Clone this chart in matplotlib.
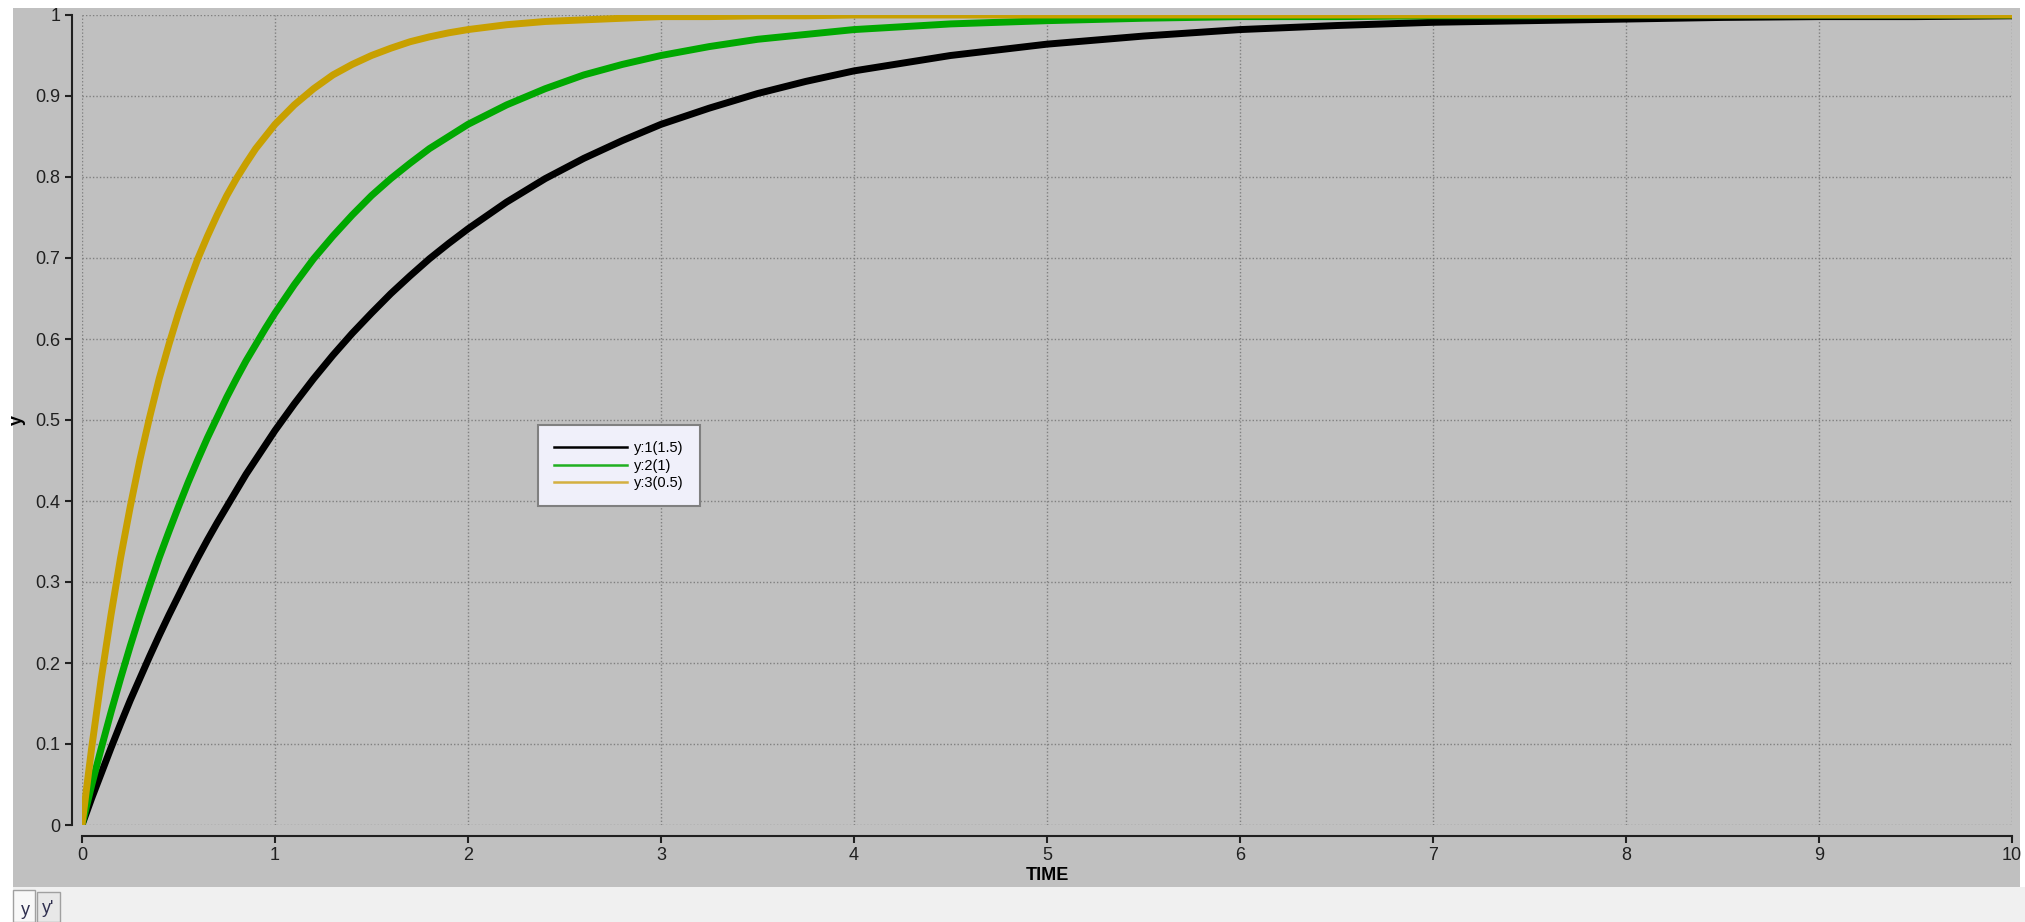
import matplotlib
matplotlib.use("Agg")
from matplotlib import pyplot as plt
from matplotlib.lines import Line2D
from matplotlib.patches import Rectangle

# readings
t = [0, 0.05, 0.1, 0.15, 0.2, 0.25, 0.3, 0.35, 0.4, 0.45, 0.5, 0.55, 0.6, 0.65, 0.7,
     0.75, 0.8, 0.85, 0.9, 0.95, 1.0, 1.1, 1.2, 1.3, 1.4, 1.5, 1.6, 1.7, 1.8, 1.9, 2.0,
     2.2, 2.4, 2.6, 2.8, 3.0, 3.25, 3.5, 3.75, 4.0, 4.5, 5.0, 5.5, 6.0, 6.5, 7.0, 7.5,
     8.0, 8.5, 9.0, 9.5, 10.0]

y1 = [0, 0.033, 0.064, 0.095, 0.125, 0.154, 0.181, 0.208, 0.234, 0.259, 0.283, 0.307,
      0.330, 0.352, 0.373, 0.393, 0.413, 0.433, 0.451, 0.469, 0.487, 0.520, 0.551, 0.580,
      0.607, 0.632, 0.656, 0.678, 0.699, 0.718, 0.736, 0.769, 0.798, 0.823, 0.845, 0.865,
      0.885, 0.903, 0.918, 0.931, 0.950, 0.964, 0.974, 0.982, 0.987, 0.991, 0.993, 0.995,
      0.997, 0.998, 0.998, 0.999]

y2 = [0, 0.049, 0.095, 0.139, 0.181, 0.221, 0.259, 0.295, 0.330, 0.362, 0.393, 0.423,
      0.451, 0.478, 0.503, 0.528, 0.551, 0.573, 0.593, 0.613, 0.632, 0.667, 0.699, 0.727,
      0.753, 0.777, 0.798, 0.817, 0.835, 0.850, 0.865, 0.889, 0.909, 0.926, 0.939, 0.950,
      0.961, 0.970, 0.976, 0.982, 0.989, 0.993, 0.996, 0.998, 0.998, 0.999, 0.999, 1.0,
      1.0, 1.0, 1.0, 1.0]

y3 = [0, 0.095, 0.181, 0.259, 0.330, 0.393, 0.451, 0.503, 0.551, 0.593, 0.632, 0.667,
      0.699, 0.727, 0.753, 0.777, 0.798, 0.817, 0.835, 0.850, 0.865, 0.889, 0.909, 0.926,
      0.939, 0.950, 0.959, 0.967, 0.973, 0.978, 0.982, 0.988, 0.992, 0.994, 0.996, 0.998,
      0.998, 0.999, 0.999, 1.0, 1.0, 1.0, 1.0, 1.0, 1.0, 1.0, 1.0, 1.0, 1.0, 1.0, 1.0, 1.0]

labels = ["y:1(1.5)", "y:2(1)", "y:3(0.5)"]
colors = ["#000000", "#00a800", "#c8a000"]
leg_colors = ["#000000", "#20b020", "#d4b040"]

plt.rcParams['font.family'] = ['Liberation Sans', 'DejaVu Sans']

W, H = 2025, 922
fig = plt.figure(figsize=(W / 100, H / 100), dpi=100, facecolor='white')

# grey panel + bottom tab strip
fig.patches.append(Rectangle((13 / W, 35 / H), (2020 - 13) / W, (922 - 8 - 35) / H,
                             transform=fig.transFigure, facecolor='#c0c0c0', edgecolor='none', zorder=-2))
fig.patches.append(Rectangle((13 / W, 0), (W - 13) / W, 35 / H,
                             transform=fig.transFigure, facecolor='#f0f0f0', edgecolor='none', zorder=-2))
fig.patches.append(Rectangle((13 / W, 0), 22 / W, 32 / H, transform=fig.transFigure,
                             facecolor='#f8f8f8', edgecolor='#a0a0a0', lw=1, zorder=-1))
fig.patches.append(Rectangle((37 / W, 0), 23 / W, 30 / H, transform=fig.transFigure,
                             facecolor='#e8e8e8', edgecolor='#a0a0a0', lw=1, zorder=-1))
fig.text(25 / W, 12 / H, "y", fontsize=13, color='#303050', ha='center', va='center')
fig.text(48 / W, 14 / H, "y'", fontsize=13, color='#303050', ha='center', va='center')

ax = fig.add_axes([82 / W, (H - 825) / H, (2012 - 82) / W, (825 - 15) / H])
ax.set_facecolor('none')
ax.set_zorder(1)

for yy, c in zip([y1, y2, y3], colors):
    ax.plot(t, yy, color=c, lw=5, solid_capstyle='round', solid_joinstyle='round', zorder=3)

ax.set_xlim(0, 10)
ax.set_ylim(0, 1)
ax.set_xticks(range(0, 11))
ax.set_yticks([i / 10 for i in range(11)])
ax.set_yticklabels(['0', '0.1', '0.2', '0.3', '0.4', '0.5', '0.6', '0.7', '0.8', '0.9', '1'])
ax.grid(True, color='#808080', linestyle=(0, (1, 1.5)), linewidth=1)
for gl in ax.get_xgridlines() + ax.get_ygridlines():
    gl.set_clip_on(False)

for s in ['top', 'right']:
    ax.spines[s].set_visible(False)
ax.spines['left'].set_position(('outward', 7.5))
ax.spines['bottom'].set_position(('outward', 8))
for s in ['left', 'bottom']:
    ax.spines[s].set_color('#202020')
    ax.spines[s].set_linewidth(1.5)
ax.tick_params(axis='both', direction='out', length=5, width=1.5, color='#202020',
               labelsize=13, labelcolor='#202020', pad=3)

ax.set_xlabel("TIME", fontsize=13, fontweight='bold', labelpad=2)
ax.set_ylabel("y", fontsize=13, fontweight='bold', labelpad=7)

handles = [Line2D([0], [0], color=c, lw=1.8) for c in leg_colors]
leg = ax.legend(handles, labels, loc='upper left', bbox_to_anchor=(0.2363, 0.4938),
                fontsize=10.5, frameon=True, fancybox=False, framealpha=1,
                facecolor='#f0f0fa', edgecolor='#808080', borderpad=1.1,
                labelspacing=0.25, handlelength=5, handletextpad=0.5, borderaxespad=0)
leg.get_frame().set_linewidth(1.5)

fig.savefig("out.png", dpi=100, facecolor='white')
